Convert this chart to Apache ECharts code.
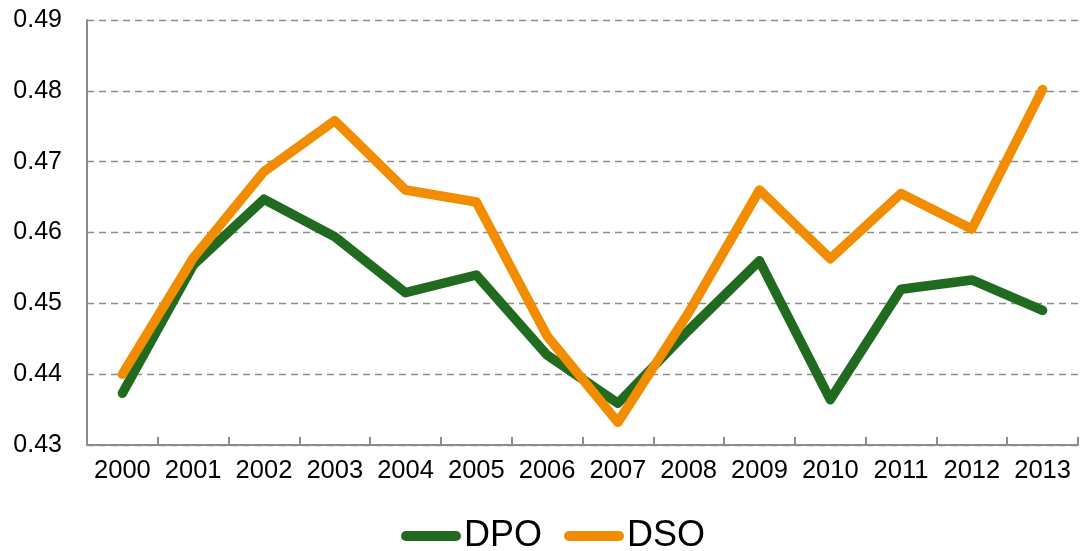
<!DOCTYPE html>
<html>
<head>
<meta charset="utf-8">
<script src="https://cdn.jsdelivr.net/npm/echarts@6/dist/echarts.min.js"></script>
<style>
  html, body { margin: 0; padding: 0; background: #fff; }
  #chart { width: 1080px; height: 551px; }
</style>
</head>
<body>
<div id="chart"></div>
<script>
const years = ['2000', '2001', '2002', '2003', '2004', '2005', '2006', '2007', '2008', '2009', '2010', '2011', '2012', '2013']
const dpo = [0.4373, 0.4554, 0.4647, 0.4594, 0.4515, 0.4540, 0.4427, 0.4359, 0.4462, 0.4560, 0.4364, 0.4520, 0.4533, 0.4490]
const dso = [0.4400, 0.4564, 0.4686, 0.4758, 0.4660, 0.4643, 0.4454, 0.4332, 0.4487, 0.4660, 0.4563, 0.4655, 0.4605, 0.4802]
const yTicks = { min: 0.43, max: 0.49, step: 0.01 }

const lineIcon = 'path://M5,0 L55,0 A5,5 0 0 1 55,10 L5,10 A5,5 0 0 1 5,0 Z'

let myChart = echarts.init(document.getElementById('chart'))
let option = {
    animation: false,
    grid: {
        left: 87,
        right: 2,
        top: 20,
        bottom: 106
    },
    legend: {
        top: 518,
        left: 401,
        padding: 0,
        itemWidth: 62,
        itemHeight: 10,
        itemGap: 22,
        textStyle: {
            fontFamily: 'Liberation Sans, Arial',
            fontSize: 36,
            color: '#000',
            padding: [0, 0, 0, -3]
        },
        data: [
            { name: 'DPO', icon: lineIcon },
            { name: 'DSO', icon: lineIcon }
        ]
    },
    xAxis: {
        type: 'category',
        boundaryGap: true,
        data: years,
        axisLine: { lineStyle: { color: '#8c8c8c', width: 2 } },
        axisTick: { show: true, inside: true, length: 8, lineStyle: { color: '#8c8c8c', width: 2 } },
        axisLabel: {
            interval: 0,
            margin: 13,
            color: '#000',
            fontSize: 25.5,
            fontFamily: 'Liberation Sans, Arial'
        },
        splitLine: { show: false }
    },
    yAxis: {
        type: 'value',
        min: yTicks.min,
        max: yTicks.max,
        interval: yTicks.step,
        axisLine: { show: true, lineStyle: { color: '#8c8c8c', width: 2 } },
        axisTick: { show: false },
        axisLabel: {
            margin: 25,
            color: '#000',
            fontSize: 25,
            fontFamily: 'Liberation Sans, Arial',
            formatter: function (v) { return v.toFixed(2) }
        },
        splitLine: {
            show: true,
            lineStyle: { color: '#8c8c8c', type: [7, 5], width: 1.3 }
        }
    },
    series: [
        {
            name: 'DPO',
            type: 'line',
            symbol: 'none',
            color: '#216b21',
            lineStyle: { width: 9.5, cap: 'round', join: 'round', color: '#216b21' },
            data: dpo
        },
        {
            name: 'DSO',
            type: 'line',
            symbol: 'none',
            color: '#f28c00',
            lineStyle: { width: 9.5, cap: 'round', join: 'round', color: '#f28c00' },
            data: dso
        }
    ]
}
myChart.setOption(option)
</script>
</body>
</html>
